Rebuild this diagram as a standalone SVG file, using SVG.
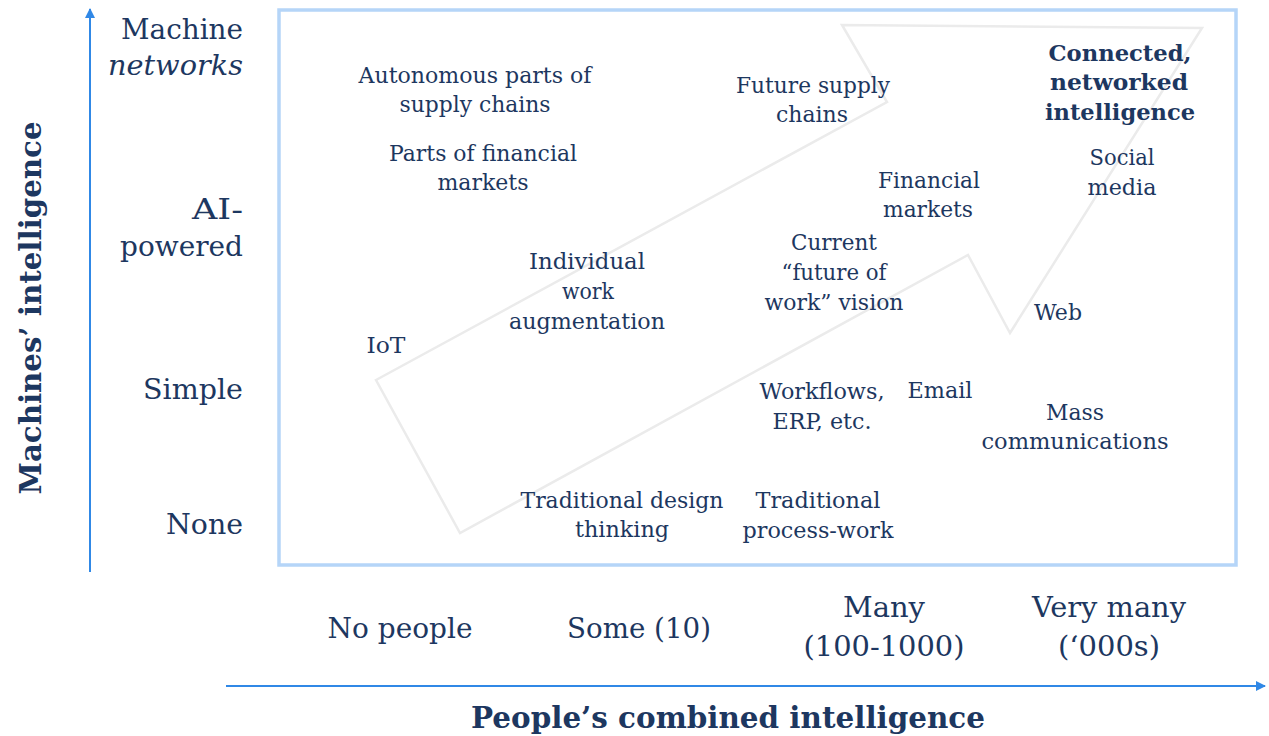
<svg xmlns="http://www.w3.org/2000/svg" width="1269" height="736" viewBox="0 0 1269 736">
<style>
text{font-family:"DejaVu Serif","Liberation Serif",serif;fill:#1d3760;}
.c{font-size:23px;text-anchor:middle;}
.b{font-weight:bold;}
.l{font-size:27.5px;text-anchor:end;}
.x{font-size:27.5px;text-anchor:middle;}
.t{font-size:29px;font-weight:bold;text-anchor:middle;}
.axis{stroke:#3088e6;stroke-width:2;fill:none;}
</style>
<defs>
<marker id="ah" viewBox="0 0 10 10" refX="9" refY="5" markerWidth="5" markerHeight="5" orient="auto" markerUnits="strokeWidth">
<path d="M0,0 L10,5 L0,10 z" fill="#3088e6"/>
</marker>
</defs>
<rect x="279" y="10" width="957" height="555" fill="#ffffff" stroke="#b5d5f8" stroke-width="3.5"/>
<g id="big-arrow">
<polygon points="376,380 887,102 842,25 1202,28 1010,333 968,255 460,533" fill="none" stroke="#ebebeb" stroke-width="2.5" stroke-linejoin="miter"/>
</g>
<g id="connectors">
<line class="axis" x1="90" y1="572" x2="90" y2="9" marker-end="url(#ah)"/>
<line class="axis" x1="226" y1="686" x2="1265" y2="686" marker-end="url(#ah)"/>
</g>
<g id="y-labels">
<text class="l" x="243" y="39" textLength="122" lengthAdjust="spacingAndGlyphs">Machine</text>
<text class="l" x="243" y="75" font-style="italic" textLength="135" lengthAdjust="spacingAndGlyphs">networks</text>
<text class="l" x="243" y="219" textLength="51" lengthAdjust="spacingAndGlyphs">AI-</text>
<text class="l" x="243" y="256" textLength="123" lengthAdjust="spacingAndGlyphs">powered</text>
<text class="l" x="243" y="399" textLength="100" lengthAdjust="spacingAndGlyphs">Simple</text>
<text class="l" x="243" y="534" textLength="77" lengthAdjust="spacingAndGlyphs">None</text>
</g>
<g id="y-title">
<text class="t" transform="translate(41,308) rotate(-90)" textLength="373" lengthAdjust="spacingAndGlyphs">Machines’ intelligence</text>
</g>
<g id="x-labels">
<text class="x" x="400" y="638" textLength="145" lengthAdjust="spacingAndGlyphs">No people</text>
<text class="x" x="639" y="638" textLength="144" lengthAdjust="spacingAndGlyphs">Some (10)</text>
<text class="x" x="884" y="617" textLength="82" lengthAdjust="spacingAndGlyphs">Many</text>
<text class="x" x="884" y="656" textLength="161" lengthAdjust="spacingAndGlyphs">(100-1000)</text>
<text class="x" x="1109" y="617" textLength="154" lengthAdjust="spacingAndGlyphs">Very many</text>
<text class="x" x="1109" y="656" textLength="102" lengthAdjust="spacingAndGlyphs">(‘000s)</text>
</g>
<g id="x-title">
<text class="t" x="728" y="728" textLength="514" lengthAdjust="spacingAndGlyphs">People’s combined intelligence</text>
</g>
<g id="n-autonomous">
<text class="c" x="475" y="83" textLength="233" lengthAdjust="spacingAndGlyphs">Autonomous parts of</text>
<text class="c" x="475" y="112" textLength="151" lengthAdjust="spacingAndGlyphs">supply chains</text>
</g>
<g id="n-parts-financial">
<text class="c" x="483" y="161" textLength="188" lengthAdjust="spacingAndGlyphs">Parts of financial</text>
<text class="c" x="483" y="190" textLength="91" lengthAdjust="spacingAndGlyphs">markets</text>
</g>
<g id="n-future-supply">
<text class="c" x="813" y="93" textLength="154" lengthAdjust="spacingAndGlyphs">Future supply</text>
<text class="c" x="812" y="122" textLength="72" lengthAdjust="spacingAndGlyphs">chains</text>
</g>
<g id="n-connected">
<text class="c b" x="1120" y="61" textLength="143" lengthAdjust="spacingAndGlyphs">Connected,</text>
<text class="c b" x="1119" y="90" textLength="138" lengthAdjust="spacingAndGlyphs">networked</text>
<text class="c b" x="1120" y="120" textLength="150" lengthAdjust="spacingAndGlyphs">intelligence</text>
</g>
<g id="n-social">
<text class="c" x="1122" y="165" textLength="65" lengthAdjust="spacingAndGlyphs">Social</text>
<text class="c" x="1122" y="195" textLength="69" lengthAdjust="spacingAndGlyphs">media</text>
</g>
<g id="n-financial">
<text class="c" x="929" y="188" textLength="102" lengthAdjust="spacingAndGlyphs">Financial</text>
<text class="c" x="928" y="217" textLength="90" lengthAdjust="spacingAndGlyphs">markets</text>
</g>
<g id="n-current">
<text class="c" x="834" y="250" textLength="86" lengthAdjust="spacingAndGlyphs">Current</text>
<text class="c" x="834" y="280" textLength="105" lengthAdjust="spacingAndGlyphs">“future of</text>
<text class="c" x="834" y="310" textLength="139" lengthAdjust="spacingAndGlyphs">work” vision</text>
</g>
<g id="n-individual">
<text class="c" x="587" y="269" textLength="116" lengthAdjust="spacingAndGlyphs">Individual</text>
<text class="c" x="588" y="299" textLength="52" lengthAdjust="spacingAndGlyphs">work</text>
<text class="c" x="587" y="329" textLength="156" lengthAdjust="spacingAndGlyphs">augmentation</text>
</g>
<g id="n-iot">
<text class="c" x="386" y="353" textLength="39" lengthAdjust="spacingAndGlyphs">IoT</text>
</g>
<g id="n-web">
<text class="c" x="1058" y="320" textLength="48" lengthAdjust="spacingAndGlyphs">Web</text>
</g>
<g id="n-workflows">
<text class="c" x="822" y="399" textLength="125" lengthAdjust="spacingAndGlyphs">Workflows,</text>
<text class="c" x="822" y="429" textLength="99" lengthAdjust="spacingAndGlyphs">ERP, etc.</text>
</g>
<g id="n-email">
<text class="c" x="940" y="398" textLength="65" lengthAdjust="spacingAndGlyphs">Email</text>
</g>
<g id="n-mass">
<text class="c" x="1075" y="420" textLength="58" lengthAdjust="spacingAndGlyphs">Mass</text>
<text class="c" x="1075" y="449" textLength="187" lengthAdjust="spacingAndGlyphs">communications</text>
</g>
<g id="n-design">
<text class="c" x="622" y="508" textLength="203" lengthAdjust="spacingAndGlyphs">Traditional design</text>
<text class="c" x="622" y="537" textLength="94" lengthAdjust="spacingAndGlyphs">thinking</text>
</g>
<g id="n-process">
<text class="c" x="818" y="508" textLength="125" lengthAdjust="spacingAndGlyphs">Traditional</text>
<text class="c" x="818" y="538" textLength="151" lengthAdjust="spacingAndGlyphs">process-work</text>
</g>
</svg>
